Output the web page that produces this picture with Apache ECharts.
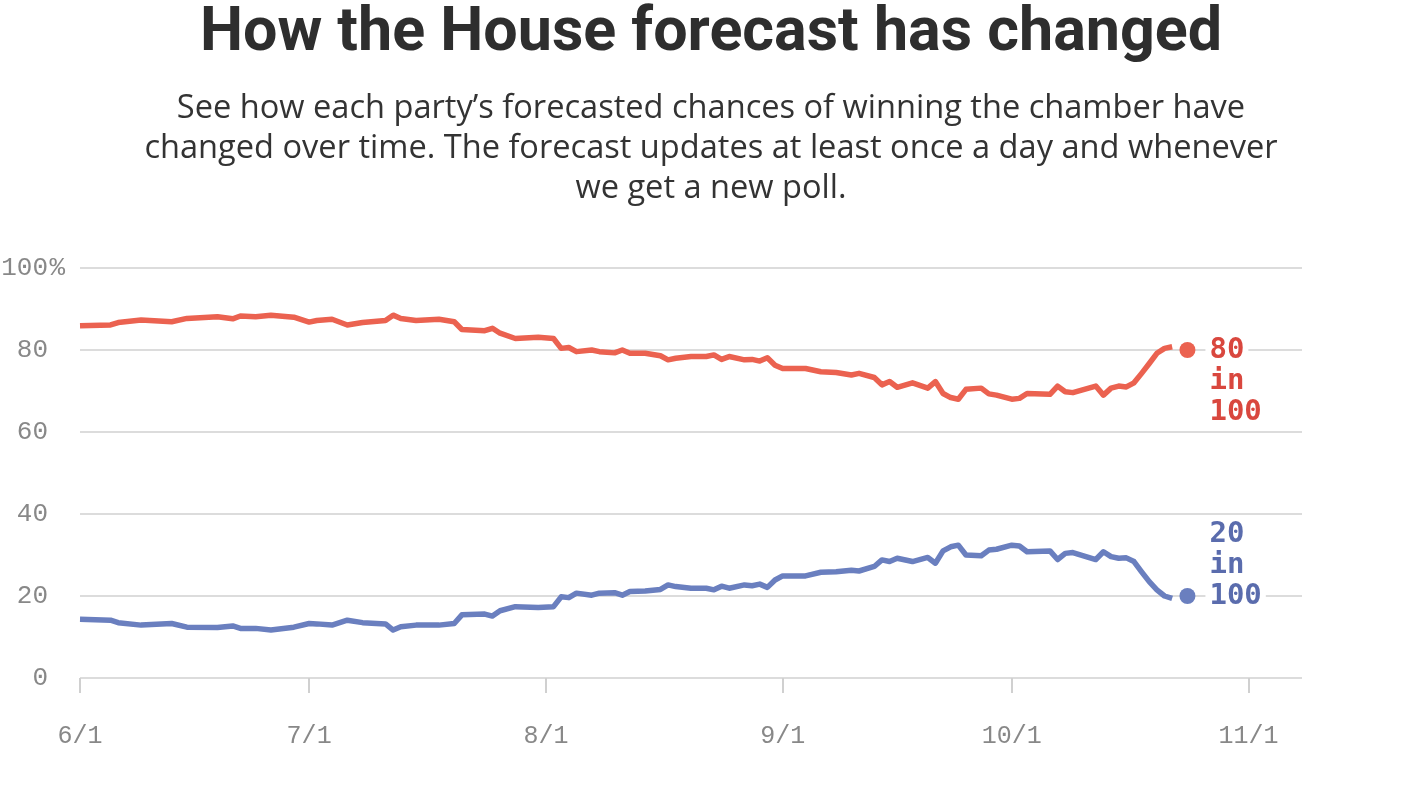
<!DOCTYPE html>
<html>
<head>
<meta charset="utf-8">
<script src="https://cdn.jsdelivr.net/npm/echarts@6/dist/echarts.min.js"></script>
<style>
  html, body { margin: 0; padding: 0; background: #fff; }
  #chart { width: 1422px; height: 808px; }
</style>
</head>
<body>
<div id="chart"></div>
<script>
// dates of the forecast updates
const days = [
  '2018-06-01','2018-06-05','2018-06-06','2018-06-09','2018-06-13','2018-06-15','2018-06-19','2018-06-21',
  '2018-06-22','2018-06-24','2018-06-26','2018-06-29','2018-07-01','2018-07-02','2018-07-04','2018-07-06',
  '2018-07-08','2018-07-11','2018-07-12','2018-07-13','2018-07-15','2018-07-18','2018-07-20','2018-07-21',
  '2018-07-24','2018-07-25','2018-07-26','2018-07-28','2018-07-31','2018-08-02','2018-08-03','2018-08-04',
  '2018-08-05','2018-08-07','2018-08-08','2018-08-10','2018-08-11','2018-08-12','2018-08-14','2018-08-16',
  '2018-08-17','2018-08-18','2018-08-20','2018-08-22','2018-08-23','2018-08-24','2018-08-25','2018-08-27',
  '2018-08-28','2018-08-29','2018-08-30','2018-08-31','2018-09-01','2018-09-04','2018-09-06','2018-09-08',
  '2018-09-10','2018-09-11','2018-09-13','2018-09-14','2018-09-15','2018-09-16','2018-09-18','2018-09-20',
  '2018-09-21','2018-09-22','2018-09-23','2018-09-24','2018-09-25','2018-09-27','2018-09-28','2018-09-29',
  '2018-10-01','2018-10-02','2018-10-03','2018-10-06','2018-10-07','2018-10-08','2018-10-09','2018-10-12',
  '2018-10-13','2018-10-14','2018-10-15','2018-10-16','2018-10-17','2018-10-18','2018-10-19','2018-10-20',
  '2018-10-21','2018-10-22'
];
const demChance = [
  85.9, 86.1, 86.7, 87.3, 86.9, 87.7, 88.1, 87.6,
  88.3, 88.1, 88.5, 88.0, 86.8, 87.2, 87.5, 86.1,
  86.7, 87.2, 88.5, 87.7, 87.2, 87.5, 86.9, 85.0,
  84.7, 85.3, 84.1, 82.8, 83.1, 82.8, 80.4, 80.6,
  79.6, 80.0, 79.6, 79.3, 80.0, 79.2, 79.2, 78.6,
  77.6, 78.0, 78.4, 78.4, 78.8, 77.7, 78.4, 77.6,
  77.7, 77.3, 78.1, 76.3, 75.5, 75.5, 74.7, 74.5,
  73.9, 74.3, 73.3, 71.5, 72.3, 70.9, 72.0, 70.7,
  72.3, 69.4, 68.4, 68.0, 70.4, 70.7, 69.3, 69.0,
  68.0, 68.2, 69.4, 69.2, 71.2, 69.8, 69.6, 71.2,
  69.0, 70.7, 71.2, 71.0, 72.0, 74.3, 76.7, 79.2,
  80.4, 80.8
];
const repChance = [
  14.3, 14.1, 13.5, 12.9, 13.3, 12.4, 12.3, 12.7,
  12.1, 12.1, 11.7, 12.4, 13.3, 13.2, 12.9, 14.1,
  13.5, 13.2, 11.7, 12.5, 12.9, 12.9, 13.3, 15.4,
  15.6, 15.1, 16.4, 17.4, 17.2, 17.4, 19.8, 19.6,
  20.7, 20.2, 20.7, 20.8, 20.2, 21.1, 21.2, 21.6,
  22.7, 22.3, 21.9, 21.9, 21.5, 22.4, 21.9, 22.7,
  22.5, 22.9, 22.1, 23.9, 24.9, 24.9, 25.8, 25.9,
  26.3, 26.1, 27.2, 28.8, 28.4, 29.2, 28.4, 29.4,
  28.0, 31.0, 32.0, 32.4, 30.0, 29.8, 31.2, 31.4,
  32.4, 32.2, 30.8, 31.0, 28.9, 30.4, 30.6, 28.9,
  30.8, 29.6, 29.2, 29.3, 28.4, 25.9, 23.5, 21.5,
  20.0, 19.4
];
// current forecast shown as the end dots
const currentDate = '2018-10-24';
const currentDem = 80;
const currentRep = 20;
const monthTicks = ['2018-06-01','2018-07-01','2018-08-01','2018-09-01','2018-10-01','2018-11-01'];

const RED = '#eb6250';
const RED_TEXT = '#d9473e';
const BLUE = '#6a7fbf';
const BLUE_TEXT = '#5a6cad';

function ts(s) {
  const p = s.split('-');
  return new Date(+p[0], +p[1] - 1, +p[2]).getTime();
}
const tickValues = monthTicks.map(ts);

const chart = echarts.init(document.getElementById('chart'));

function endLabel(color, offsetY) {
  return {
    show: true,
    position: 'right',
    distance: 10,
    offset: [0, offsetY],
    formatter: p => '{a|' + Math.round(p.value[1]) + '}\n{a|in}\n{a|100}',
    rich: {
      a: {
        fontFamily: 'DejaVu Sans Mono',
        fontWeight: 'bold',
        fontSize: 29,
        lineHeight: 31,
        color: color,
        backgroundColor: '#fff',
        padding: [0, 4]
      }
    }
  };
}

chart.setOption({
  animation: false,
  title: [
    {
      text: 'How the House forecast has changed',
      left: 'center',
      top: -1,
      textStyle: {
        fontFamily: 'Roboto',
        fontWeight: 'bold',
        fontSize: 61,
        color: '#2e2e2e'
      }
    },
    {
      text: 'See how each party’s forecasted chances of winning the chamber have\nchanged over time. The forecast updates at least once a day and whenever\nwe get a new poll.',
      left: 'center',
      top: 84,
      textStyle: {
        fontFamily: 'Open Sans',
        fontWeight: 'normal',
        fontSize: 32.6,
        lineHeight: 40,
        color: '#333',
        align: 'center'
      }
    }
  ],
  grid: {
    left: 80,
    right: 120,
    top: 268,
    bottom: 130,
    outerBoundsMode: 'none'
  },
  xAxis: {
    type: 'value',
    min: ts('2018-06-01'),
    max: ts('2018-11-08'),
    offset: 20,
    axisLine: { show: false },
    axisTick: {
      show: true,
      customValues: tickValues,
      length: 15,
      lineStyle: { color: '#d0d0d0', width: 2 }
    },
    axisLabel: {
      customValues: tickValues,
      margin: 26,
      fontFamily: 'Liberation Mono',
      fontSize: 25,
      color: '#888',
      formatter: v => {
        const d = new Date(v);
        return (d.getMonth() + 1) + '/' + d.getDate();
      }
    },
    splitLine: { show: false }
  },
  yAxis: {
    type: 'value',
    min: 0,
    max: 100,
    interval: 20,
    axisLine: { show: false },
    axisTick: { show: false },
    axisLabel: {
      margin: 15,
      formatter: v => '{v|' + v + '}{p|' + (v === 100 ? '%' : ' ') + '}',
      rich: {
        v: { fontFamily: 'Liberation Mono', fontSize: 26, color: '#888' },
        p: { fontFamily: 'Liberation Mono', fontSize: 26, color: '#888', width: 17 }
      }
    },
    splitLine: { lineStyle: { color: '#dcdcdc', width: 2 } }
  },
  series: [
    {
      name: 'Democrats',
      type: 'line',
      data: days.map((d, i) => [ts(d), demChance[i]]),
      showSymbol: false,
      lineStyle: { color: RED, width: 5.5, join: 'round' },
      z: 3
    },
    {
      name: 'Republicans',
      type: 'line',
      data: days.map((d, i) => [ts(d), repChance[i]]),
      showSymbol: false,
      lineStyle: { color: BLUE, width: 5.5, join: 'round' },
      z: 3
    },
    {
      type: 'scatter',
      data: [[ts(currentDate), currentDem]],
      symbolSize: 16,
      itemStyle: { color: RED, opacity: 1 },
      label: endLabel(RED_TEXT, 31),
      z: 4
    },
    {
      type: 'scatter',
      data: [[ts(currentDate), currentRep]],
      symbolSize: 16,
      itemStyle: { color: BLUE, opacity: 1 },
      label: endLabel(BLUE_TEXT, -31),
      z: 4
    }
  ]
});
</script>
</body>
</html>
